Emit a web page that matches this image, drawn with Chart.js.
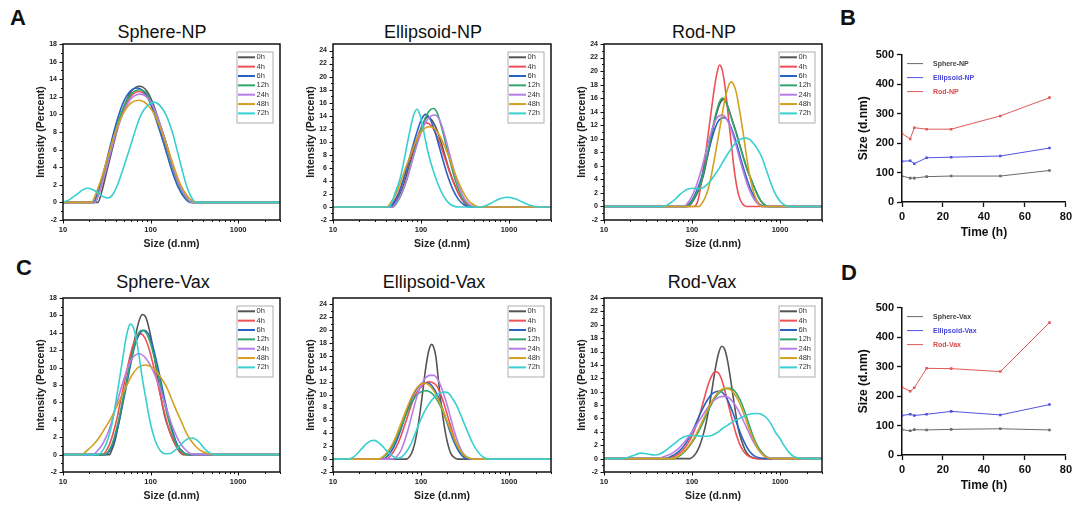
<!DOCTYPE html>
<html>
<head>
<meta charset="utf-8">
<script src="https://cdn.jsdelivr.net/npm/chart.js"></script>
<style>
  body { margin: 0; background: #fff; width: 1078px; height: 506px; position: relative; overflow: hidden;
         font-family: "Liberation Sans", Arial, sans-serif; color: #111; }
  canvas { position: absolute; }
  .letter { position: absolute; font-weight: bold; font-size: 22px; line-height: 22px; }
  .title { position: absolute; font-size: 18px; line-height: 18px; transform: translateX(-50%); white-space: nowrap; }
</style>
</head>
<body>
<div class="letter" style="left:10px;top:7px">A</div>
<div class="letter" style="left:840px;top:7px">B</div>
<div class="letter" style="left:16px;top:257px">C</div>
<div class="letter" style="left:841px;top:262px">D</div>

<div class="title" style="left:162px;top:23px">Sphere-NP</div>
<div class="title" style="left:433px;top:23px">Ellipsoid-NP</div>
<div class="title" style="left:704px;top:23px">Rod-NP</div>
<div class="title" style="left:163px;top:273px">Sphere-Vax</div>
<div class="title" style="left:434px;top:273px">Ellipsoid-Vax</div>
<div class="title" style="left:702px;top:273px">Rod-Vax</div>

<canvas id="sphereNP" width="251" height="214" style="left:35px;top:36px"></canvas>
<canvas id="ellipsoidNP" width="252" height="214" style="left:305px;top:36px"></canvas>
<canvas id="rodNP" width="252" height="214" style="left:576px;top:36px"></canvas>
<canvas id="trendNP" width="219" height="195" style="left:856px;top:45px"></canvas>
<canvas id="sphereVax" width="251" height="212" style="left:35px;top:290px"></canvas>
<canvas id="ellipsoidVax" width="252" height="212" style="left:305px;top:290px"></canvas>
<canvas id="rodVax" width="252" height="212" style="left:576px;top:290px"></canvas>
<canvas id="trendVax" width="219" height="195" style="left:856px;top:298px"></canvas>

<script>
// DLS intensity distributions, [size (d.nm), intensity (%)] per time point
const hours = ['0h', '4h', '6h', '12h', '24h', '48h', '72h'];
const hourColors = ['#555555', '#ef4f56', '#2a62c4', '#2fa66b', '#b77de6', '#d3a11f', '#37cfcf'];

const sphereNP = [
  [[10,0],[25,0],[28,1.4],[31,3.2],[36,5.8],[42,8.4],[50,10.9],[60,12.6],[75,13.2],[90,12.7],[105,11.4],[125,9.2],[150,6.8],[180,4.0],[210,2.1],[250,0.7],[300,0],[3000,0]],
  [[10,0],[23,0],[26,1.2],[30,3.3],[35,5.9],[41,8.4],[50,10.8],[60,12.1],[74,12.6],[90,12.1],[105,10.9],[125,8.8],[150,6.4],[180,3.8],[210,2.0],[250,0.6],[295,0],[3000,0]],
  [[10,0],[22,0],[25,1.2],[29,3.4],[34,6.1],[40,8.8],[48,11.2],[58,12.6],[70,13.0],[85,12.5],[100,11.2],[120,8.9],[145,6.3],[175,3.6],[205,1.8],[245,0.5],[285,0],[3000,0]],
  [[10,0],[23,0],[26,1.3],[30,3.4],[35,6.0],[41,8.6],[50,11.0],[60,12.3],[74,12.8],[90,12.4],[105,11.1],[125,9.0],[150,6.6],[180,3.9],[210,2.0],[250,0.6],[295,0],[3000,0]],
  [[10,0],[23,0],[26,1.2],[30,3.2],[35,5.7],[41,8.1],[50,10.4],[60,11.8],[76,12.3],[92,11.9],[108,10.8],[128,8.9],[153,6.5],[183,3.9],[213,2.0],[255,0.6],[300,0],[3000,0]],
  [[10,0],[21,0],[24,1.1],[28,3.0],[33,5.4],[39,7.8],[48,10.0],[60,11.3],[74,11.6],[90,11.2],[108,10.2],[130,8.4],[157,6.1],[188,3.8],[220,2.0],[265,0.7],[325,0],[3000,0]],
  [[10,0],[12,0.35],[14.5,0.95],[17,1.45],[19,1.6],[21.5,1.5],[25,1.1],[29,0.65],[33,0.5],[37,0.9],[42,2.0],[50,4.2],[58,6.2],[67,8.2],[78,10.0],[92,11.0],[110,11.4],[128,11.0],[149,10.0],[177,8.0],[200,6.0],[225,4.0],[255,2.0],[285,0.8],[330,0],[3000,0]]
];

const ellipsoidNP = [
  [[10,0],[47,0],[52,0.8],[58,2.0],[65,3.8],[72,6.0],[81,8.3],[90,10.2],[104,12.6],[119,13.8],[135,13.2],[152,11.8],[170,9.8],[188,7.8],[210,5.6],[235,3.8],[268,2.0],[310,0.7],[380,0],[3000,0]],
  [[10,0],[44,0],[49,0.8],[55,2.0],[62,3.9],[70,6.1],[79,8.4],[90,10.5],[102,12.2],[115,12.9],[130,12.5],[148,11.2],[168,9.3],[190,7.2],[213,5.2],[240,3.4],[275,1.8],[320,0.6],[390,0],[3000,0]],
  [[10,0],[45,0],[50,0.8],[56,2.1],[63,4.1],[71,6.6],[80,9.2],[91,11.7],[101,13.4],[112,14.2],[126,13.6],[142,11.8],[160,9.4],[180,6.9],[203,4.6],[230,2.7],[265,1.2],[310,0.3],[360,0],[3000,0]],
  [[10,0],[48,0],[54,0.8],[61,2.2],[69,4.2],[78,6.8],[88,9.4],[100,11.9],[113,13.8],[127,14.9],[139,15.1],[153,14.4],[170,12.4],[190,9.8],[212,7.2],[237,4.8],[265,2.8],[300,1.2],[350,0.3],[410,0],[3000,0]],
  [[10,0],[47,0],[53,0.8],[60,2.1],[68,4.0],[77,6.4],[87,8.9],[99,11.2],[113,13.0],[128,13.9],[145,14.1],[160,13.5],[178,11.9],[198,9.6],[220,7.2],[245,4.9],[275,2.9],[310,1.3],[360,0.3],[420,0],[3000,0]],
  [[10,0],[41,0],[46,0.8],[52,2.0],[59,3.9],[67,6.0],[76,8.0],[87,10.0],[100,11.5],[114,12.2],[127,12.3],[143,12.0],[162,11.0],[183,9.5],[207,7.7],[235,5.7],[265,3.9],[300,2.3],[345,1.0],[400,0.3],[470,0],[3000,0]],
  [[10,0],[43,0],[47,0.8],[51,2.2],[58,4.4],[66,8.0],[75,11.8],[82,14.0],[90,15.0],[97,14.2],[105,12.2],[121,8.2],[138,5.5],[155,3.6],[178,1.8],[210,0.5],[260,0],[480,0],[560,0.25],[650,0.7],[760,1.2],[950,1.5],[1150,1.3],[1400,0.8],[1700,0.3],[2200,0],[3000,0]]
];

const rodNP = [
  [[10,0],[90,0],[99,0.5],[108,1.3],[117,2.2],[127,3.4],[138,5.1],[150,7.4],[165,10.0],[181,12.6],[198,14.5],[213,15.5],[228,15.8],[245,15.4],[267,14.0],[292,12.4],[320,10.8],[350,9.0],[385,7.2],[425,5.4],[475,3.8],[535,2.2],[600,0.9],[670,0.2],[750,0],[3000,0]],
  [[10,0],[105,0],[115,0.6],[122,2.0],[131,4.6],[142,7.6],[152,10.5],[165,14.0],[180,17.6],[193,19.8],[205,20.9],[218,20.4],[232,18.6],[248,15.6],[263,12.4],[280,9.2],[298,6.0],[318,3.4],[340,1.6],[370,0.5],[420,0],[3000,0]],
  [[10,0],[85,0],[94,0.5],[103,1.2],[112,2.2],[122,3.4],[133,5.0],[146,7.0],[160,9.0],[176,10.9],[193,12.3],[212,13.0],[233,13.1],[255,12.7],[280,11.6],[307,10.1],[337,8.3],[370,6.4],[410,4.5],[455,2.8],[510,1.4],[580,0.4],[660,0],[3000,0]],
  [[10,0],[88,0],[97,0.5],[106,1.3],[115,2.2],[125,3.4],[135,5.0],[148,7.4],[162,10.0],[178,12.6],[195,14.6],[210,15.7],[223,16.0],[240,15.6],[262,14.2],[287,12.6],[315,11.0],[345,9.2],[380,7.4],[420,5.6],[470,4.0],[530,2.3],[600,0.9],[680,0.2],[760,0],[3000,0]],
  [[10,0],[80,0],[89,0.5],[98,1.3],[107,2.4],[117,3.8],[128,5.5],[141,7.6],[155,9.7],[171,11.6],[188,12.9],[204,13.4],[220,13.5],[240,13.2],[264,12.2],[290,10.7],[320,8.8],[352,6.8],[390,4.8],[432,3.0],[485,1.5],[550,0.5],[630,0],[3000,0]],
  [[10,0],[120,0],[130,0.5],[141,1.3],[152,2.5],[167,4.8],[183,7.6],[200,10.4],[220,13.6],[240,16.2],[260,17.8],[278,18.4],[298,18.0],[320,16.7],[345,14.4],[372,11.8],[400,9.0],[430,6.2],[465,3.8],[510,1.8],[560,0.6],[620,0],[3000,0]],
  [[10,0],[45,0],[52,0.2],[58,0.6],[65,1.1],[72,1.7],[80,2.2],[92,2.6],[105,2.7],[118,2.65],[130,2.7],[145,3.1],[160,3.7],[180,4.6],[205,5.7],[232,6.9],[262,8.0],[295,9.0],[330,9.7],[365,10.0],[406,10.1],[450,9.9],[500,9.3],[560,8.4],[620,7.3],[690,5.6],[770,3.8],[860,2.2],[970,1.0],[1100,0.3],[1250,0],[3000,0]]
];

const sphereVax = [
  [[10,0],[34,0],[36,0.5],[39,1.5],[42,3.0],[46,5.0],[50,7.0],[55,9.2],[60,11.3],[66,13.3],[73,15.2],[80,16.1],[88,15.8],[97,14.3],[107,12.1],[118,9.4],[130,6.8],[145,4.4],[162,2.9],[182,1.6],[205,0.6],[235,0],[3000,0]],
  [[10,0],[28,0],[31,0.4],[34,1.2],[37,2.3],[41,4.0],[45,6.0],[50,8.2],[56,10.6],[63,12.6],[70,13.6],[76,13.9],[85,13.5],[95,12.3],[106,10.5],[118,8.6],[132,6.4],[148,4.3],[167,2.5],[190,1.2],[215,0.4],[250,0],[3000,0]],
  [[10,0],[31,0],[34,0.4],[37,1.1],[40,2.2],[44,3.9],[48,5.8],[53,7.9],[59,10.3],[66,12.5],[75,13.9],[84,14.3],[94,13.9],[105,12.6],[117,10.7],[130,8.6],[145,6.3],[162,4.2],[182,2.4],[205,1.0],[235,0.3],[270,0],[3000,0]],
  [[10,0],[30,0],[33,0.4],[36,1.1],[39,2.2],[43,3.9],[47,5.8],[52,7.9],[58,10.3],[65,12.5],[72,13.9],[80,14.3],[90,13.9],[101,12.6],[113,10.7],[126,8.6],[141,6.3],[158,4.2],[178,2.4],[200,1.0],[230,0.3],[265,0],[3000,0]],
  [[10,0],[22,0],[24,0.3],[27,0.9],[30,1.7],[34,3.0],[38,4.6],[43,6.6],[48,8.2],[54,9.8],[61,11.0],[68,11.5],[75,11.6],[84,11.3],[95,10.6],[108,9.5],[122,8.2],[137,6.7],[155,5.0],[175,3.4],[198,2.1],[225,1.1],[260,0.4],[310,0],[3000,0]],
  [[10,0],[16,0],[18,0.3],[20,0.7],[23,1.3],[26,2.0],[30,3.0],[35,4.1],[40,5.3],[46,6.6],[53,7.9],[61,9.1],[70,9.9],[78,10.2],[86,10.3],[96,10.2],[108,9.9],[122,9.3],[138,8.5],[155,7.6],[175,6.3],[198,5.0],[222,3.9],[250,2.7],[285,1.7],[330,0.9],[390,0.35],[460,0.1],[520,0],[3000,0]],
  [[10,0],[25,0],[28,0.4],[31,1.2],[34,2.4],[37,4.0],[40,6.0],[44,8.6],[48,11.0],[52,13.2],[56,14.6],[59,15.0],[63,14.7],[68,13.5],[74,11.3],[80,8.9],[87,6.8],[95,4.6],[104,2.8],[115,1.4],[128,0.5],[145,0.1],[162,0.1],[185,0.4],[210,0.9],[240,1.5],[270,1.85],[300,1.9],[335,1.7],[375,1.2],[420,0.6],[470,0.2],[540,0],[3000,0]]
];

const ellipsoidVax = [
  [[10,0],[68,0],[73,0.3],[78,0.9],[84,2.2],[90,4.2],[97,7.0],[104,10.2],[111,13.3],[119,16.0],[126,17.4],[132,17.8],[139,17.4],[148,15.8],[157,12.5],[167,9.2],[178,6.4],[190,4.0],[203,2.2],[218,0.9],[235,0.3],[260,0],[3000,0]],
  [[10,0],[40,0],[44,0.4],[49,1.2],[55,2.5],[61,4.1],[68,6.0],[76,8.0],[85,9.8],[96,10.9],[110,11.7],[122,12.0],[135,11.9],[150,11.4],[168,10.0],[188,8.0],[210,5.8],[233,3.8],[258,2.1],[288,0.9],[325,0.3],[380,0],[3000,0]],
  [[10,0],[37,0],[41,0.4],[46,1.2],[52,2.6],[58,4.3],[65,6.3],[73,8.3],[82,10.0],[93,11.2],[106,11.8],[121,11.8],[136,11.2],[153,10.0],[172,8.2],[193,6.1],[216,4.1],[240,2.5],[268,1.2],[300,0.4],[345,0],[3000,0]],
  [[10,0],[34,0],[38,0.4],[43,1.1],[49,2.4],[55,3.9],[62,5.6],[70,7.4],[79,8.9],[90,10.0],[102,10.5],[115,10.6],[130,10.3],[147,9.5],[166,8.2],[187,6.6],[210,4.9],[235,3.2],[262,1.8],[295,0.8],[335,0.2],[390,0],[3000,0]],
  [[10,0],[48,0],[53,0.4],[59,1.3],[65,2.8],[72,4.8],[80,7.2],[89,9.5],[99,11.3],[111,12.5],[125,13.0],[140,13.0],[156,12.3],[174,10.8],[195,8.7],[218,6.3],[242,4.1],[268,2.3],[298,1.0],[335,0.3],[385,0],[3000,0]],
  [[10,0],[33,0],[37,0.4],[42,1.2],[48,2.5],[54,4.1],[61,6.0],[69,7.9],[78,9.6],[88,10.9],[98,11.6],[108,11.8],[120,11.6],[135,10.9],[152,9.7],[171,8.1],[193,6.3],[217,4.5],[243,2.9],[272,1.6],[305,0.7],[345,0.2],[410,0],[3000,0]],
  [[10,0],[15,0],[17,0.3],[19,0.9],[21.5,1.7],[24,2.4],[27,2.85],[29,2.9],[32,2.7],[36,2.1],[40,1.4],[45,0.7],[50,0.3],[55,0.15],[61,0.4],[68,1.1],[76,2.2],[85,3.8],[95,5.5],[107,7.1],[120,8.3],[135,9.3],[152,10.0],[170,10.35],[187,10.4],[206,10.2],[228,9.4],[252,8.4],[280,7.0],[310,5.5],[345,4.0],[385,2.5],[430,1.4],[480,0.6],[540,0.15],[600,0],[3000,0]]
];

const rodVax = [
  [[10,0],[95,0],[103,0.3],[112,0.9],[122,1.9],[133,3.4],[145,5.4],[158,8.0],[171,10.8],[185,13.6],[200,15.7],[217,16.8],[234,16.4],[252,14.8],[272,12.2],[293,9.3],[316,6.5],[340,4.1],[368,2.6],[400,1.3],[440,0.5],[500,0.1],[580,0],[3000,0]],
  [[10,0],[55,0],[62,0.3],[70,0.7],[79,1.3],[89,2.2],[100,3.4],[112,5.0],[125,7.0],[139,9.2],[153,11.1],[168,12.4],[184,13.0],[200,12.8],[218,11.8],[238,10.0],[260,8.0],[285,5.9],[313,3.9],[345,2.3],[380,1.2],[425,0.5],[490,0.1],[560,0],[3000,0]],
  [[10,0],[50,0],[57,0.3],[65,0.7],[74,1.3],[84,2.2],[95,3.4],[107,4.8],[120,6.3],[135,7.7],[152,8.9],[170,9.7],[188,10.0],[205,10.1],[225,9.8],[248,9.0],[273,7.8],[300,6.4],[330,4.9],[365,3.4],[405,2.1],[450,1.1],[510,0.4],[590,0.1],[680,0],[3000,0]],
  [[10,0],[62,0],[70,0.3],[79,0.8],[89,1.5],[100,2.4],[113,3.5],[127,4.8],[142,6.2],[160,7.7],[180,8.9],[202,9.8],[226,10.3],[252,10.5],[278,10.5],[305,10.1],[335,9.3],[368,8.2],[405,6.7],[445,5.1],[490,3.5],[540,2.2],[600,1.2],[670,0.5],[760,0.1],[880,0],[3000,0]],
  [[10,0],[40,0],[46,0.2],[53,0.5],[61,0.9],[70,1.5],[80,2.3],[92,3.3],[105,4.4],[120,5.6],[137,6.8],[156,7.9],[178,8.7],[205,9.2],[233,9.3],[262,9.1],[295,8.4],[330,7.4],[370,6.1],[415,4.7],[465,3.3],[520,2.1],[585,1.1],[660,0.4],[750,0.1],[860,0],[3000,0]],
  [[10,0],[60,0],[68,0.3],[77,0.8],[87,1.5],[98,2.4],[111,3.6],[125,5.0],[140,6.4],[157,7.8],[176,9.0],[198,9.9],[222,10.4],[247,10.5],[273,10.3],[302,9.7],[333,8.8],[368,7.5],[405,6.0],[447,4.4],[493,3.0],[545,1.8],[605,0.9],[675,0.3],[770,0.05],[860,0],[3000,0]],
  [[10,0],[16,0],[19,0.2],[22,0.5],[25,0.78],[27,0.82],[30,0.72],[34,0.6],[38,0.55],[43,0.7],[49,1.1],[56,1.7],[64,2.3],[73,2.9],[83,3.3],[95,3.45],[110,3.45],[128,3.35],[148,3.35],[170,3.5],[195,3.9],[222,4.5],[255,5.0],[290,5.5],[330,5.9],[375,6.2],[420,6.5],[480,6.7],[550,6.75],[620,6.6],[700,6.1],[790,5.2],[890,3.9],[1000,3.0],[1120,1.9],[1270,0.9],[1450,0.3],[1700,0.05],[1900,0],[3000,0]]
];

// Z-average size over time
const times = [0, 4, 6, 12, 24, 48, 72];
const npNames = ['Sphere-NP', 'Ellipsoid-NP', 'Rod-NP'];
const vaxNames = ['Sphere-Vax', 'Ellipsoid-Vax', 'Rod-Vax'];
const sphereNPSize = [88, 81, 81, 86, 88, 88, 107];
const ellipsoidNPSize = [138, 140, 130, 150, 152, 156, 183];
const rodNPSize = [232, 214, 252, 247, 247, 292, 354];
const sphereVaxSize = [86, 82, 86, 85, 87, 89, 85];
const ellipsoidVaxSize = [134, 138, 134, 138, 148, 136, 171];
const rodVaxSize = [230, 216, 228, 294, 293, 283, 449];
const trendLine = ['#6b6b6b', '#5252e2', '#e05a5a'];
const trendText = ['#444444', '#4848d6', '#d84a4a'];

const FONT = '"Liberation Sans", Arial, sans-serif';

// log axis ticks 10..3000, labelled at decades
const sizeTicks = [];
for (const d of [10, 100, 1000]) {
  for (let k = 1; k <= 9; k++) if (d * k <= 3000) sizeTicks.push(d * k);
}

// Origin-style frame, major/minor tick marks and boxed legend
const dlsFrame = {
  id: 'dlsFrame',
  afterDraw(chart) {
    const { ctx, chartArea: a, scales: { x, y } } = chart;
    ctx.save();
    ctx.strokeStyle = '#111';
    ctx.lineWidth = 1;
    ctx.beginPath();
    for (const t of y.ticks) {
      const py = Math.round(y.getPixelForValue(t.value)) + 0.5;
      ctx.moveTo(a.left, py);
      ctx.lineTo(a.left - (t.label !== '' ? 3.5 : 2), py);
    }
    for (const t of x.ticks) {
      const px = Math.round(x.getPixelForValue(t.value)) + 0.5;
      ctx.moveTo(px, a.bottom);
      ctx.lineTo(px, a.bottom + (t.label !== '' ? 3.5 : 2));
    }
    ctx.stroke();
    ctx.lineWidth = 1.5;
    ctx.strokeRect(a.left, a.top, a.right - a.left, a.bottom - a.top);

    const bx = a.right - 43, by = a.top + 8;
    ctx.lineWidth = 0.8;
    ctx.strokeStyle = '#999';
    ctx.strokeRect(bx, by, 36, 71);
    ctx.font = '7.5px ' + FONT;
    ctx.textBaseline = 'middle';
    chart.data.datasets.forEach((ds, i) => {
      const ry = by + 5.3 + i * 9.35;
      ctx.strokeStyle = ds.borderColor;
      ctx.lineWidth = 2;
      ctx.beginPath();
      ctx.moveTo(bx + 1, ry);
      ctx.lineTo(bx + 18, ry);
      ctx.stroke();
      ctx.fillStyle = '#333';
      ctx.fillText(ds.label, bx + 19.5, ry);
    });
    ctx.restore();
  }
};

function dlsChart(id, series, yMax) {
  const yTicks = [];
  for (let v = -2; v <= Math.min(yMax, 24); v++) yTicks.push(v);
  new Chart(document.getElementById(id), {
    type: 'line',
    data: {
      datasets: series.map((pts, i) => ({
        label: hours[i],
        data: pts,
        borderColor: hourColors[i],
        borderWidth: 1.6,
        pointRadius: 0,
        cubicInterpolationMode: 'monotone',
        fill: false,
        order: series.length - i
      }))
    },
    options: {
      responsive: false,
      animation: false,
      devicePixelRatio: 1,
      layout: { padding: { top: 8, right: 6, left: 0, bottom: 0 } },
      plugins: { legend: { display: false }, tooltip: { enabled: false } },
      scales: {
        x: {
          type: 'logarithmic',
          min: 10,
          max: 3000,
          grid: { display: false, tickLength: 3 },
          border: { display: false },
          afterBuildTicks: s => { s.ticks = sizeTicks.map(v => ({ value: v })); },
          afterFit: s => { s.height = 30; },
          ticks: {
            autoSkip: false,
            maxRotation: 0,
            padding: 2,
            color: '#222',
            font: { family: FONT, size: 7.5, weight: 'bold' },
            callback: v => ([10, 100, 1000].includes(v) ? String(v) : '')
          },
          title: {
            display: true,
            text: 'Size (d.nm)',
            color: '#222',
            padding: { top: 0, bottom: 0 },
            font: { family: FONT, size: 10.5, weight: 'bold' }
          }
        },
        y: {
          min: -2,
          max: yMax,
          grid: { display: false, tickLength: 3 },
          border: { display: false },
          afterBuildTicks: s => { s.ticks = yTicks.map(v => ({ value: v })); },
          afterFit: s => { s.width = 28; },
          ticks: {
            autoSkip: false,
            padding: 3,
            color: '#222',
            font: { family: FONT, size: 7, weight: 'bold' },
            callback: v => (v % 2 === 0 ? String(v) : '')
          },
          title: {
            display: true,
            text: 'Intensity (Percent)',
            color: '#222',
            padding: { top: 0, bottom: 0 },
            font: { family: FONT, size: 10.5, weight: 'bold' }
          }
        }
      }
    },
    plugins: [dlsFrame]
  });
}

// legend drawn in the upper left of the plot
const trendLegend = {
  id: 'trendLegend',
  afterDraw(chart) {
    const { ctx, chartArea: a } = chart;
    ctx.save();
    ctx.font = 'bold 7px ' + FONT;
    ctx.textBaseline = 'middle';
    chart.data.datasets.forEach((ds, i) => {
      const ry = a.top + 9 + i * 14;
      ctx.strokeStyle = ds.borderColor;
      ctx.lineWidth = 1;
      ctx.beginPath();
      ctx.moveTo(a.left + 5, ry);
      ctx.lineTo(a.left + 21, ry);
      ctx.stroke();
      ctx.fillStyle = trendText[i];
      ctx.fillText(ds.label, a.left + 31, ry);
    });
    ctx.restore();
  }
};

function trendChart(id, names, series) {
  new Chart(document.getElementById(id), {
    type: 'line',
    data: {
      datasets: series.map((vals, i) => ({
        label: names[i],
        data: times.map((t, j) => [t, vals[j]]),
        borderColor: trendLine[i],
        backgroundColor: trendLine[i],
        borderWidth: 1,
        pointStyle: 'rect',
        pointRadius: 1.8,
        pointBorderWidth: 0,
        tension: 0
      }))
    },
    options: {
      responsive: false,
      animation: false,
      devicePixelRatio: 1,
      layout: { padding: { top: 8, right: 8, left: 0, bottom: 0 } },
      plugins: { legend: { display: false }, tooltip: { enabled: false } },
      scales: {
        x: {
          type: 'linear',
          min: 0,
          max: 80,
          grid: { drawOnChartArea: false, tickLength: 5, tickWidth: 1.3, tickColor: '#111' },
          border: { color: '#111', width: 1.5 },
          afterFit: s => { s.height = 38; },
          ticks: { stepSize: 20, padding: 3, color: '#111', font: { family: FONT, size: 11, weight: 'bold' } },
          title: {
            display: true, text: 'Time (h)', color: '#111',
            padding: { top: 0, bottom: 0 },
            font: { family: FONT, size: 12, weight: 'bold' }
          }
        },
        y: {
          min: 0,
          max: 500,
          grid: { drawOnChartArea: false, tickLength: 5, tickWidth: 1.3, tickColor: '#111' },
          border: { color: '#111', width: 1.5 },
          afterFit: s => { s.width = 46; },
          ticks: { stepSize: 100, padding: 3, color: '#111', font: { family: FONT, size: 11, weight: 'bold' } },
          title: {
            display: true, text: 'Size (d.nm)', color: '#111',
            padding: { top: 0, bottom: 0 },
            font: { family: FONT, size: 12, weight: 'bold' }
          }
        }
      }
    },
    plugins: [trendLegend]
  });
}

dlsChart('sphereNP', sphereNP, 18);
dlsChart('ellipsoidNP', ellipsoidNP, 25);
dlsChart('rodNP', rodNP, 24);
dlsChart('sphereVax', sphereVax, 18);
dlsChart('ellipsoidVax', ellipsoidVax, 25);
dlsChart('rodVax', rodVax, 24);
trendChart('trendNP', npNames, [sphereNPSize, ellipsoidNPSize, rodNPSize]);
trendChart('trendVax', vaxNames, [sphereVaxSize, ellipsoidVaxSize, rodVaxSize]);
</script>
</body>
</html>
